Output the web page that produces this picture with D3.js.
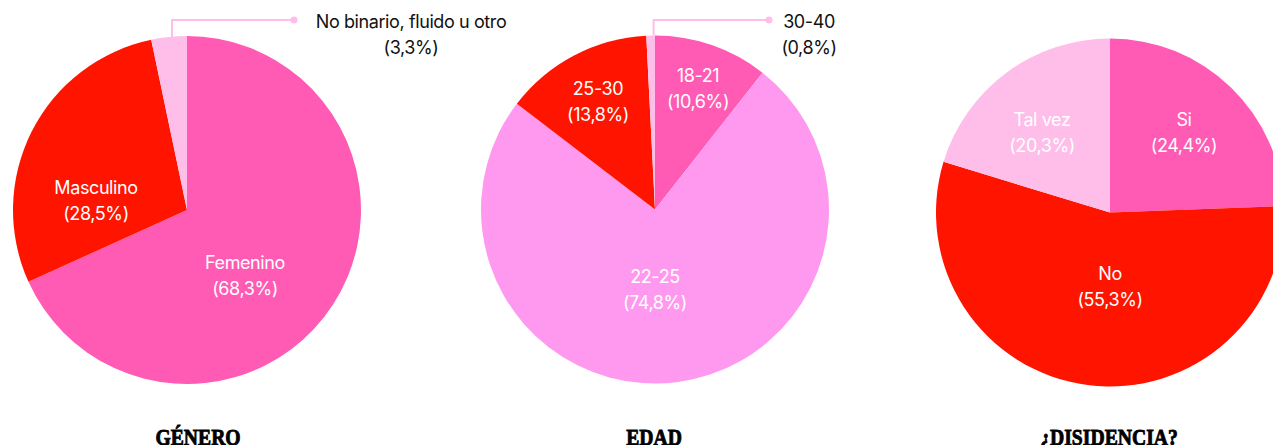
<!DOCTYPE html>
<html>
<head>
<meta charset="utf-8">
<script src="https://cdn.jsdelivr.net/npm/d3@7"></script>
<style>
  html, body { margin: 0; padding: 0; background: #ffffff; overflow: hidden; }
  svg { display: block; }
  .lbl { font-family: Inter, "Noto Sans", sans-serif; font-size: 18px; letter-spacing: -0.4px; }
  .title { font-family: "Liberation Serif", "DejaVu Serif", serif; font-weight: 900; font-size: 24px; stroke: #000; stroke-width: 0.9px; }
</style>
</head>
<body>
<svg id="chart" width="1273" height="445"></svg>
<script>
// ---------- DATA ----------
const generoCategories = ["Femenino", "Masculino", "No binario, fluido u otro"];
const generoValues     = [68.3, 28.5, 3.3];

const edadCategories = ["18-21", "22-25", "25-30", "30-40"];
const edadValues     = [10.6, 74.8, 13.8, 0.8];

const disidenciaCategories = ["Si", "No", "Tal vez"];
const disidenciaValues     = [24.4, 55.3, 20.3];

const chartTitles = ["GÉNERO", "EDAD", "¿DISIDENCIA?"];

// ---------- STYLE / LAYOUT ----------
const PINK = "#ff5ab4", RED = "#ff1400", LIGHT = "#ffbde9", VIOLET = "#ff99f0";
const charts = [
  { cats: generoCategories, vals: generoValues, colors: [PINK, RED, LIGHT],
    cx: 187, cy: 210, titleX: 198,
    labelOffsets: [[58, 65], [-91, -10], null],
    callout: { index: 2, lineY: 20, endX: 294, textX: 411, anchor: "middle" } },
  { cats: edadCategories, vals: edadValues, colors: [PINK, VIOLET, RED, LIGHT],
    cx: 655, cy: 209.5, titleX: 654,
    labelOffsets: [[43, -122], [0, 79], [-57, -109], null],
    callout: { index: 3, lineY: 20, endX: 769, textX: 809, anchor: "middle" } },
  { cats: disidenciaCategories, vals: disidenciaValues, colors: [PINK, RED, LIGHT],
    cx: 1110, cy: 212.5, titleX: 1109,
    labelOffsets: [[74, -81], [0, 73], [-68, -81]],
    callout: null }
];
const R = 174;

const svg = d3.select("#chart");
const fmt = v => "(" + d3.format(".1f")(v).replace(".", ",") + "%)";

const pie = d3.pie().sort(null).value(d => d.v).startAngle(0).endAngle(2 * Math.PI);
const arc = d3.arc().innerRadius(0).outerRadius(R);

charts.forEach((c, ci) => {
  const data = c.cats.map((k, i) => ({ k, v: c.vals[i], color: c.colors[i], i }));
  const arcs = pie(data);
  const g = svg.append("g").attr("transform", `translate(${c.cx},${c.cy})`);

  g.selectAll("path").data(arcs).enter().append("path")
    .attr("d", arc)
    .attr("fill", d => d.data.color);

  // in-slice labels
  arcs.forEach(a => {
    const off = c.labelOffsets[a.data.i];
    if (!off) return;
    const t = g.append("text").attr("class", "lbl").attr("fill", "#ffffff")
      .attr("text-anchor", "middle");
    t.append("tspan").attr("x", off[0]).attr("y", off[1] - 6).text(a.data.k);
    t.append("tspan").attr("x", off[0]).attr("y", off[1] + 20).text(fmt(a.data.v));
  });

  // callout
  if (c.callout) {
    const a = arcs[c.callout.index];
    const mid = (a.startAngle + a.endAngle) / 2;
    const sx = c.cx + R * Math.sin(mid) + 3;
    const sy = c.cy - R * Math.cos(mid);
    svg.append("path")
      .attr("d", `M${sx},${sy}V${c.callout.lineY}H${c.callout.endX}`)
      .attr("fill", "none").attr("stroke", LIGHT).attr("stroke-width", 2);
    svg.append("circle").attr("cx", c.callout.endX).attr("cy", c.callout.lineY)
      .attr("r", 3.5).attr("fill", LIGHT);
    const t = svg.append("text").attr("class", "lbl").attr("fill", "#111111")
      .attr("text-anchor", c.callout.anchor);
    t.append("tspan").attr("x", c.callout.textX).attr("y", 28).text(a.data.k);
    t.append("tspan").attr("x", c.callout.textX).attr("y", 54).text(fmt(a.data.v));
  }

  // title (the reference crops these at the bottom edge)
  svg.append("g").attr("transform", `translate(${c.titleX},445) scale(0.82,1)`)
    .append("text").attr("class", "title").attr("text-anchor", "middle")
    .attr("fill", "#000000").text(chartTitles[ci]);
});
</script>
</body>
</html>
